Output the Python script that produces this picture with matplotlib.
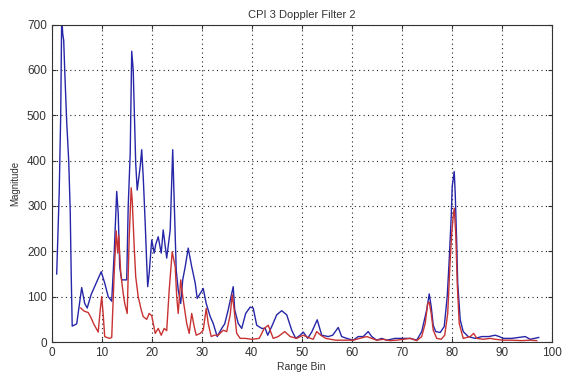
import matplotlib
matplotlib.use('Agg')
import matplotlib.pyplot as plt
import numpy as np

plt.rcParams['font.family'] = ['Liberation Sans', 'DejaVu Sans']

# blue trace (range bin, magnitude)
blue_bin = [1.0, 1.2, 1.5, 1.8, 2.0, 2.2, 2.4, 2.6, 3.0, 3.4, 3.7, 3.9, 4.1, 5.0, 6.0, 6.6, 7.1, 7.9,
            8.9, 9.9, 10.6, 11.3, 12.0, 12.5, 13.0, 13.3, 13.6, 14.0, 15.0, 15.3, 15.7, 16.0, 16.3,
            16.5, 16.8, 17.1, 17.7, 18.0, 18.3, 18.7, 19.0, 19.2, 19.5, 20.0, 20.5, 20.8, 21.3, 21.9,
            22.3, 23.0, 23.7, 24.2, 24.9, 25.3, 25.8, 26.2, 26.7, 27.3, 28.0, 28.7, 29.1, 29.7, 30.3,
            30.9, 31.7, 32.3, 33.1, 34.0, 34.6, 35.3, 36.3, 36.6, 37.3, 38.0, 38.8, 39.7, 40.3, 41.0,
            42.0, 42.7, 43.2, 44.0, 45.0, 46.0, 47.0, 48.0, 48.8, 49.7, 50.3, 51.2, 52.0, 53.1, 54.0,
            55.3, 56.2, 57.3, 58.0, 59.0, 60.3, 61.3, 62.3, 63.3, 64.0, 65.0, 66.0, 67.0, 68.7, 70.0,
            71.7, 73.0, 74.0, 75.0, 75.5, 75.9, 76.3, 76.8, 77.7, 78.5, 79.1, 79.5, 79.9, 80.1, 80.5,
            80.7, 81.0, 81.2, 81.7, 82.3, 83.3, 84.7, 86.0, 87.4, 88.7, 89.5, 90.3, 92.0, 93.3, 94.7,
            95.7, 96.6, 97.4]
blue_mag = [150, 225, 330, 500, 720, 680, 665, 600, 485, 400, 290, 150, 35, 40, 120, 85, 75, 105,
            130, 155, 130, 100, 90, 196, 332, 284, 166, 137, 137, 299, 416, 641, 600,
            519, 394, 335, 387, 424, 365, 262, 174, 122, 152, 225, 196, 215, 232, 196,
            247, 185, 247, 424, 159, 115, 85, 137, 166, 207, 166, 130, 96, 107, 118,
            85, 56, 41, 12, 30, 40, 71, 122, 71, 41, 30, 63, 77, 75, 37,
            30, 30, 15, 34, 60, 69, 60, 26, 8, 15, 22, 8, 22, 49, 15,
            12, 15, 32, 12, 8, 4, 12, 12, 23, 12, 4, 8, 4, 8, 8,
            8, 4, 23, 71, 106, 78, 37, 23, 21, 34, 100, 181, 277, 343, 376,
            328, 218, 130, 49, 23, 12, 8, 12, 12, 15, 12, 8, 8, 10, 12,
            6, 8, 10]

# red trace
red_bin = [5.8, 6.5, 7.3, 7.8, 8.4, 8.9, 9.3, 9.7, 10.0, 10.3, 10.6, 11.5, 12.0, 12.5, 12.9, 13.2,
           13.4, 13.8, 14.3, 14.6, 15.1, 15.5, 15.9, 16.1, 16.5, 16.8, 17.3, 17.9, 18.3, 19.0, 19.5,
           20.0, 20.7, 21.3, 21.9, 22.5, 23.0, 23.5, 24.1, 24.7, 25.0, 25.3, 25.8, 26.3, 27.0, 27.5,
           28.0, 28.5, 28.9, 29.7, 30.3, 30.9, 31.3, 31.9, 32.5, 33.3, 34.3, 35.0, 35.7, 36.1, 36.4,
           37.0, 37.7, 38.7, 40.0, 41.5, 42.5, 43.3, 44.3, 45.3, 46.6, 47.7, 49.0, 50.3, 51.3, 52.3,
           53.0, 53.8, 54.8, 56.8, 58.8, 60.3, 61.6, 63.0, 64.0, 65.0, 66.3, 67.6, 69.0, 70.3, 71.7,
           73.0, 74.0, 74.7, 75.2, 75.5, 75.9, 76.3, 77.0, 77.9, 78.6, 79.2, 79.7, 80.0, 80.3, 80.5,
           80.8, 81.1, 81.5, 82.3, 83.7, 84.4, 85.0, 86.3, 87.7, 88.7, 90.3, 92.0, 94.0, 95.7, 97.0]
red_mag = [75, 68, 65, 55, 40, 30, 22, 70, 100, 60, 12, 8, 10, 152, 245, 196,
           235, 152, 107, 85, 63, 232, 340, 313, 210, 144, 100, 71, 56, 50, 63,
           58, 19, 30, 15, 30, 25, 115, 199, 166, 100, 63, 137, 93, 41, 19,
           63, 34, 15, 19, 26, 74, 41, 12, 15, 15, 26, 23, 60, 104, 80,
           19, 8, 8, 6, 8, 30, 37, 8, 12, 23, 12, 8, 15, 10, 6,
           23, 15, 8, 4, 4, 4, 8, 12, 8, 4, 6, 3, 4, 6, 8,
           3, 12, 41, 85, 88, 63, 26, 8, 6, 15, 63, 181, 240, 277, 295,
           240, 130, 41, 8, 12, 19, 8, 6, 8, 6, 4, 4, 3, 4, 3]

fig = plt.figure(figsize=(5.62, 3.76), dpi=100)
ax = fig.add_axes([0.092, 0.0904, 0.8897, 0.8444])

ax.plot(blue_bin, blue_mag, color='#2626a8', linewidth=1.0)
ax.plot(red_bin, red_mag, color='#c83232', linewidth=1.0)

ax.set_xlim(0, 100)
ax.set_ylim(0, 700)
ax.set_xticks(np.arange(0, 101, 10))
ax.set_yticks(np.arange(0, 701, 100))
ax.grid(True, linestyle=(0, (1, 3)), color='#222222', linewidth=0.8)
ax.tick_params(direction='in', top=True, right=True, labelsize=8.5, colors='#333333', length=3)
for s in ax.spines.values():
    s.set_color('#333333')

ax.set_title('CPI 3 Doppler Filter 2', fontsize=8, color='#333333', pad=5)
ax.set_xlabel('Range Bin', fontsize=7.5, color='#333333', labelpad=2)
ax.set_ylabel('Magnitude', fontsize=7, color='#333333', labelpad=5)

plt.savefig('out.png', dpi=100)
